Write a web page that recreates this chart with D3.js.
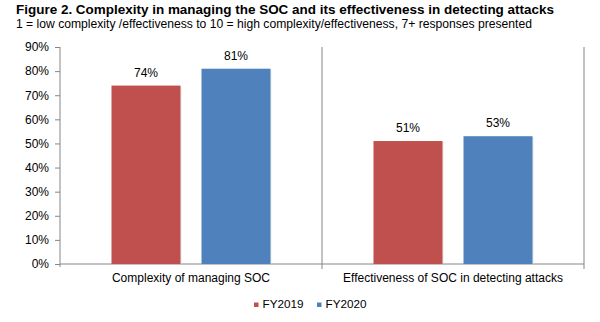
<!DOCTYPE html>
<html><head><meta charset="utf-8">
<script src="https://cdn.jsdelivr.net/npm/d3@7/dist/d3.min.js"></script>
<style>
body{margin:0;background:#fff;}
svg{display:block;font-family:Arial,"Liberation Sans",sans-serif;}
</style></head>
<body><svg id="c" width="600" height="322"></svg>
<script>
const categories = ["Complexity of managing SOC", "Effectiveness of SOC in detecting attacks"];
const seriesNames = ["FY2019", "FY2020"];
const fy2019 = [0.74, 0.51];
const fy2020 = [0.81, 0.53];
const yTicks = [0,0.1,0.2,0.3,0.4,0.5,0.6,0.7,0.8,0.9];
const colors = ["#C0504D", "#4F81BD"];
const titleText = "Figure 2. Complexity in managing the SOC and its effectiveness in detecting attacks";
const subtitleText = "1 = low complexity /effectiveness to 10 = high complexity/effectiveness, 7+ responses presented";

(function(){
const values = [fy2019, fy2020];
const svg = d3.select("#c");
const pLeft = 60, pRight = 584, pTop = 47, pBottom = 264;
const axisColor = "#868686";
const fs = "12px";

svg.append("text").attr("x",16).attr("y",14).attr("font-size","13.4px").attr("font-weight","bold").attr("fill","#000")
  .attr("textLength",538).attr("lengthAdjust","spacingAndGlyphs").text(titleText);
svg.append("text").attr("x",16).attr("y",27.5).attr("font-size","12px").attr("fill","#000")
  .attr("textLength",516).attr("lengthAdjust","spacingAndGlyphs").text(subtitleText);

const y = d3.scaleLinear().domain([0,0.9]).range([pBottom, pTop]);
const x0 = d3.scaleBand().domain(categories).range([pLeft, pRight]).padding(0);
const x1 = d3.scaleBand().domain(seriesNames).range([0, x0.bandwidth()]).paddingInner(0.2333).paddingOuter(0.572);

const yAxis = d3.axisLeft(y).tickValues(yTicks).tickFormat(d3.format(".0%")).tickSize(5).tickPadding(6);
const gy = svg.append("g").attr("transform",`translate(${pLeft},0)`).call(yAxis);
gy.select(".domain").remove();
gy.selectAll(".tick line").attr("stroke",axisColor);
gy.selectAll(".tick text").attr("font-size",fs).attr("fill","#000").attr("font-family","Arial,'Liberation Sans',sans-serif");
svg.append("line").attr("x1",pLeft).attr("x2",pLeft).attr("y1",pTop).attr("y2",pBottom+3).attr("stroke",axisColor);

svg.append("line").attr("x1",pLeft).attr("x2",pRight).attr("y1",pBottom).attr("y2",pBottom).attr("stroke",axisColor);
const seps = categories.map(c => x0(c) + x0.bandwidth());
svg.selectAll(".sep").data(seps).enter().append("line")
  .attr("x1",d=>d).attr("x2",d=>d).attr("y1",pTop).attr("y2",pBottom+5).attr("stroke",axisColor);

categories.forEach((c,ci)=>{
  seriesNames.forEach((s,si)=>{
    const v = values[si][ci];
    const bx = x0(c)+x1(s);
    svg.append("rect").attr("x",bx+1).attr("y",y(v)+1).attr("width",x1.bandwidth()).attr("height",pBottom-y(v)-1).attr("fill","#d9d9d9").attr("opacity",0.6);
    svg.append("rect").attr("x",bx).attr("y",y(v)).attr("width",x1.bandwidth()).attr("height",pBottom-y(v)).attr("fill",colors[si]);
    svg.append("text").attr("x",bx+x1.bandwidth()/2).attr("y",y(v)-9).attr("text-anchor","middle")
      .attr("font-size",fs).attr("fill","#000").text(d3.format(".0%")(v));
  });
  svg.append("text").attr("x",x0(c)+x0.bandwidth()/2).attr("y",282).attr("text-anchor","middle")
    .attr("font-size",fs).attr("fill","#000").text(c);
});

const legendX = [254, 317];
seriesNames.forEach((s,i)=>{
  svg.append("rect").attr("x",legendX[i]).attr("y",302.5).attr("width",4.5).attr("height",4.5).attr("fill",colors[i]);
  svg.append("text").attr("x",legendX[i]+8.5).attr("y",307.5).attr("font-size","11.7px").attr("fill","#000").text(s);
});
})();
</script></body></html>
